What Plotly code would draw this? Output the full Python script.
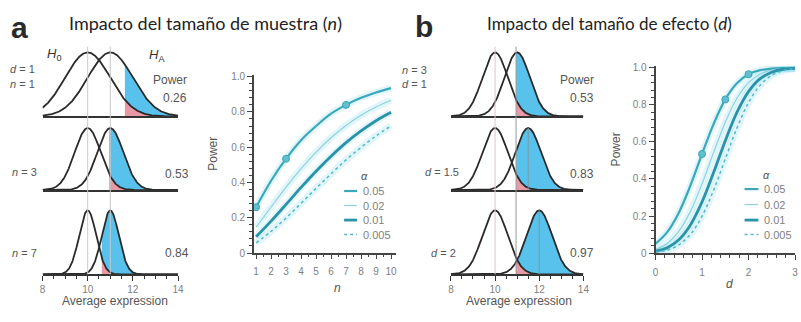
import numpy as np
import plotly.graph_objects as go

# ---------------- data ----------------
h0_mean = 10.0
z_crit = 1.645                      # one-sided alpha = 0.05
# panel a: effect size d = 1, varying n
a_n = [1, 3, 7]
a_d = [1, 1, 1]
a_power_text = ["0.26", "0.53", "0.84"]
# panel b: n = 3, varying d
b_n = [3, 3, 3]
b_d = [1, 1.5, 2]
b_power_text = ["0.53", "0.83", "0.97"]

alpha_labels = ["0.05", "0.02", "0.01", "0.005"]

n_vals = [1, 2, 3, 4, 5, 6, 7, 8, 9, 10]
pow_n_005 = [0.26, 0.41, 0.535, 0.64, 0.72, 0.79, 0.84, 0.88, 0.91, 0.935]
pow_n_002 = [0.146, 0.261, 0.374, 0.478, 0.572, 0.654, 0.723, 0.781, 0.828, 0.866]
pow_n_001 = [0.092, 0.181, 0.276, 0.372, 0.464, 0.549, 0.626, 0.692, 0.750, 0.798]
pow_n_0005 = [0.058, 0.123, 0.199, 0.282, 0.367, 0.449, 0.528, 0.599, 0.664, 0.721]
marker_n = [1, 3, 7]
marker_n_pow = [0.26, 0.535, 0.84]

d_vals = [0, 0.25, 0.5, 0.75, 1.0, 1.25, 1.5, 1.75, 2.0, 2.25, 2.5, 2.75, 3.0]
pow_d_005 = [0.05, 0.113, 0.218, 0.365, 0.535, 0.698, 0.830, 0.917, 0.966, 0.988, 0.996, 0.999, 1.0]
pow_d_002 = [0.02, 0.052, 0.117, 0.225, 0.374, 0.544, 0.707, 0.836, 0.921, 0.967, 0.989, 0.997, 0.999]
pow_d_001 = [0.01, 0.029, 0.072, 0.152, 0.276, 0.436, 0.607, 0.760, 0.872, 0.942, 0.977, 0.993, 0.998]
pow_d_0005 = [0.005, 0.016, 0.044, 0.101, 0.199, 0.341, 0.509, 0.675, 0.813, 0.907, 0.960, 0.986, 0.996]
marker_d = [1, 1.5, 2]
marker_d_pow = [0.535, 0.83, 0.966]

xtick_dist = [8, 10, 12, 14]
ytick_pow = [0, 0.2, 0.4, 0.6, 0.8, 1.0]
ytick_pow_text = ["0", "0.2", "0.4", "0.6", "0.8", "1.0"]

# ---------------- layout helpers ----------------
W, H = 801, 322
def px(x): return x / W
def py(y): return 1 - y / H

FONT = "Liberation Sans"
BLUE = "#58c2ec"
PINK = "#e79aa6"
CURVE = "#2a2a2a"
AX = "#444444"
TXT = "#555555"
TICKTXT = "#808080"

rows = [(50, 116), (128, 192), (213, 279)]   # (peak px, baseline px)
YMAX = 1.1

fig = go.Figure()
layout = dict(width=W, height=H, margin=dict(l=0, r=0, t=0, b=0),
              paper_bgcolor="white", plot_bgcolor="rgba(0,0,0,0)",
              showlegend=False, font=dict(family=FONT, color=TXT, size=11))

def dom_y(peak, base):
    h = base - peak
    return [py(base), py(base - YMAX * h)]

# distribution axes: a -> 1..3, b -> 5..7
dist_x = {"a": (40, 177), "b": (453, 587)}
for panel, offs in (("a", 0), ("b", 4)):
    xl, xr = dist_x[panel]
    for i, (pk, bs) in enumerate(rows):
        k = offs + i + 1
        xs = "xaxis" if k == 1 else f"xaxis{k}"
        ys = "yaxis" if k == 1 else f"yaxis{k}"
        last = (i == 2)
        xa = dict(domain=[px(xl), px(xr)], range=[8, 14], anchor=("y" if k == 1 else f"y{k}"),
                  showgrid=False, zeroline=False, showline=True, linecolor="#333", linewidth=1.6,
                  showticklabels=last, ticks="outside" if last else "",
                  ticklen=5, tickwidth=1.3, tickcolor="#333",
                  tickfont=dict(size=10, color=TICKTXT, family=FONT))
        if last:
            xa["tickvals"] = xtick_dist
            xa["minor"] = dict(dtick=0.5, ticks="outside", ticklen=3, tickcolor="#333", tickwidth=1)
        layout[xs] = xa
        layout[ys] = dict(domain=dom_y(pk, bs), range=[0, YMAX], visible=False,
                          anchor=("x" if k == 1 else f"x{k}"))

# power axes
layout["xaxis4"] = dict(domain=[px(254), px(397)], range=[0.87, 10.3], anchor="y4",
                        showgrid=False, zeroline=False, showline=True, linecolor=AX, linewidth=2,
                        tickvals=n_vals, ticks="outside", ticklen=4, tickcolor=AX, tickwidth=1.3,
                        minor=dict(dtick=0.5, ticks="outside", ticklen=2, tickcolor=AX),
                        tickfont=dict(size=10, color=TICKTXT), ticklabelstandoff=4)
layout["yaxis4"] = dict(domain=[py(257), py(257 - 1.01 * 182)], range=[0, 1.01], anchor="x4",
                        showgrid=False, zeroline=False, showline=True, linecolor=AX, linewidth=2,
                        tickvals=ytick_pow, ticktext=ytick_pow_text, ticks="outside", ticklen=5,
                        tickcolor=AX, tickwidth=1.3,
                        minor=dict(dtick=0.04, ticks="outside", ticklen=3, tickcolor=AX),
                        tickfont=dict(size=10, color=TICKTXT))
layout["xaxis8"] = dict(domain=[px(660), 1.0], range=[0, 3.0], anchor="y8",
                        showgrid=False, zeroline=False, showline=True, linecolor=AX, linewidth=2,
                        tickvals=[0, 1, 2, 3], ticks="outside", ticklen=5, tickcolor=AX, tickwidth=1.3,
                        minor=dict(dtick=0.2, ticks="outside", ticklen=3, tickcolor=AX),
                        tickfont=dict(size=10, color=TICKTXT), ticklabelstandoff=4)
layout["yaxis8"] = dict(domain=[py(257), py(257 - 1.01 * 191)], range=[0, 1.01], anchor="x8",
                        showgrid=False, zeroline=False, showline=True, linecolor=AX, linewidth=2,
                        tickvals=ytick_pow, ticktext=ytick_pow_text, ticks="outside", ticklen=5,
                        tickcolor=AX, tickwidth=1.3,
                        minor=dict(dtick=0.04, ticks="outside", ticklen=3, tickcolor=AX),
                        tickfont=dict(size=10, color=TICKTXT))

# ---------------- distributions ----------------
def add_dist(k, meanA, sd, crit):
    xa = "x" if k == 1 else f"x{k}"
    ya = "y" if k == 1 else f"y{k}"
    xs = np.linspace(8, 14, 601)
    f0 = np.exp(-0.5 * ((xs - h0_mean) / sd) ** 2)
    fA = np.exp(-0.5 * ((xs - meanA) / sd) ** 2)
    xc = np.linspace(crit, 14, 300)
    f0c = np.exp(-0.5 * ((xc - h0_mean) / sd) ** 2)
    fAc = np.exp(-0.5 * ((xc - meanA) / sd) ** 2)
    lo = np.minimum(f0c, fAc)
    fig.add_trace(go.Scatter(x=xc, y=lo, xaxis=xa, yaxis=ya, mode="lines", line=dict(width=0),
                             fill="tozeroy", fillcolor=PINK, hoverinfo="skip"))
    fig.add_trace(go.Scatter(x=xc, y=fAc, xaxis=xa, yaxis=ya, mode="lines", line=dict(width=0),
                             fill="tonexty", fillcolor=BLUE, hoverinfo="skip"))
    for f in (f0, fA):
        fig.add_trace(go.Scatter(x=xs, y=f, xaxis=xa, yaxis=ya, mode="lines",
                                 line=dict(color=CURVE, width=1.8), hoverinfo="skip"))

shapes = []
for i in range(3):
    sd = 1 / np.sqrt(a_n[i])
    add_dist(i + 1, h0_mean + a_d[i], sd, h0_mean + z_crit * sd)
for i in range(3):
    sd = 1 / np.sqrt(b_n[i])
    add_dist(i + 5, h0_mean + b_d[i], sd, h0_mean + z_crit * sd)
    if i > 0:
        shapes.append(dict(type="line", xref=f"x{i+5}", yref=f"y{i+5}", x0=h0_mean + b_d[i],
                           x1=h0_mean + b_d[i], y0=0, y1=1, line=dict(color="#7f97a3", width=1),
                           layer="above"))

# vertical reference lines spanning rows
crit_b = h0_mean + z_crit / np.sqrt(b_n[0])
for xref, xv, col in (("x", 10, "#dcc3c8"), ("x", 11, "#c8c8c8"),
                      ("x5", 10, "#e2c2c9"), ("x5", crit_b, "#9a9a9a")):
    shapes.append(dict(type="line", xref=xref, yref="paper", x0=xv, x1=xv,
                       y0=py(279), y1=py(44), line=dict(color=col, width=1), layer="above"))

# ---------------- power curves ----------------
styles = [dict(color="#3aa8bb", width=2.2, dash="solid"),
          dict(color="#8fd2dc", width=1.2, dash="solid"),
          dict(color="#2a93a9", width=2.8, dash="solid"),
          dict(color="#53b8c8", width=1.5, dash="dot")]
halo = "rgba(120,215,235,0.22)"

for xa, ya, xv, series, mx, my in (("x4", "y4", n_vals, [pow_n_005, pow_n_002, pow_n_001, pow_n_0005], marker_n, marker_n_pow),
                                   ("x8", "y8", d_vals, [pow_d_005, pow_d_002, pow_d_001, pow_d_0005], marker_d, marker_d_pow)):
    for s in series:
        fig.add_trace(go.Scatter(x=xv, y=s, xaxis=xa, yaxis=ya, mode="lines",
                                 line=dict(color=halo, width=7, shape="spline"), hoverinfo="skip",
                                 cliponaxis=False))
    for s, st in zip(series, styles):
        fig.add_trace(go.Scatter(x=xv, y=s, xaxis=xa, yaxis=ya, mode="lines",
                                 line=dict(color=st["color"], width=st["width"], dash=st["dash"], shape="spline"),
                                 hoverinfo="skip", cliponaxis=False))
    fig.add_trace(go.Scatter(x=mx, y=my, xaxis=xa, yaxis=ya, mode="markers",
                             marker=dict(size=7, color="#62bfcf", line=dict(color="#3aa8bb", width=1)),
                             hoverinfo="skip", cliponaxis=False))

# legends (manual)
legend_pos = [dict(x0=345, x1=358, tx=362, ay=178, ax=366, rows=[193, 208, 223, 238]),
              dict(x0=750, x1=764, tx=768, ay=176, ax=772, rows=[191, 207, 223, 238])]
annotations = []
def ann(x, y, text, size=11, color=TXT, xanchor="center", family=FONT, angle=0):
    annotations.append(dict(x=px(x), y=py(y), xref="paper", yref="paper", text=text, showarrow=False,
                            xanchor=xanchor, yanchor="middle", textangle=angle,
                            font=dict(size=size, color=color, family=family)))

for lp in legend_pos:
    ann(lp["ax"], lp["ay"], "<i>α</i>", size=11)
    for yy, st, lab in zip(lp["rows"], styles, alpha_labels):
        shapes.append(dict(type="line", xref="paper", yref="paper", x0=px(lp["x0"]), x1=px(lp["x1"]),
                           y0=py(yy), y1=py(yy),
                           line=dict(color=st["color"], width=st["width"], dash=st["dash"])))
        ann(lp["tx"], yy, lab, size=11, color=TICKTXT, xanchor="left")

# ---------------- text ----------------
TITLEFONT = "Lato"
ann(17, 24, "<b>a</b>", size=30, color="#2a2a2a")
ann(426, 23, "<b>b</b>", size=30, color="#2a2a2a")
ann(205, 20, "Impacto del tamaño de muestra (<i>n</i>)", size=18, color="#222", family=TITLEFONT)
ann(613, 20, "Impacto del tamaño de efecto (<i>d</i>)", size=17, color="#222", family=TITLEFONT)

ann(52, 52, "<i>H</i><sub>0</sub>", size=13, color="#333")
ann(156, 53, "<i>H</i><sub>A</sub>", size=13, color="#333")

ann(20, 67, "<i>d</i> = 1")
ann(20, 83, "<i>n</i> = 1")
ann(188, 78, "Power", size=12, xanchor="right")
ann(188, 97, a_power_text[0], size=12, xanchor="right")
ann(22, 173, "<i>n</i> = 3")
ann(190, 175, a_power_text[1], size=12, xanchor="right")
ann(22, 257, "<i>n</i> = 7")
ann(190, 257, a_power_text[2], size=12, xanchor="right")
ann(113, 307, "Average expression", size=12)

ann(416, 68, "<i>n</i> = 3")
ann(416, 83, "<i>d</i> = 1")
ann(600, 78, "Power", size=12, xanchor="right")
ann(600, 97, b_power_text[0], size=12, xanchor="right")
ann(444, 173, "<i>d</i> = 1.5")
ann(600, 175, b_power_text[1], size=12, xanchor="right")
ann(446, 257, "<i>d</i> = 2")
ann(600, 257, b_power_text[2], size=12, xanchor="right")
ann(522, 307, "Average expression", size=12)

ann(213, 155, "Power", size=12, angle=-90)
ann(338, 293, "<i>n</i>", size=12)
ann(620, 150, "Power", size=12, angle=-90)
ann(735, 289, "<i>d</i>", size=12)

layout["shapes"] = shapes
layout["annotations"] = annotations
fig.update_layout(**layout)
fig.write_html("out.html", config={"displayModeBar": False},
               post_script="document.body.style.margin='0';document.body.style.overflow='hidden';")
